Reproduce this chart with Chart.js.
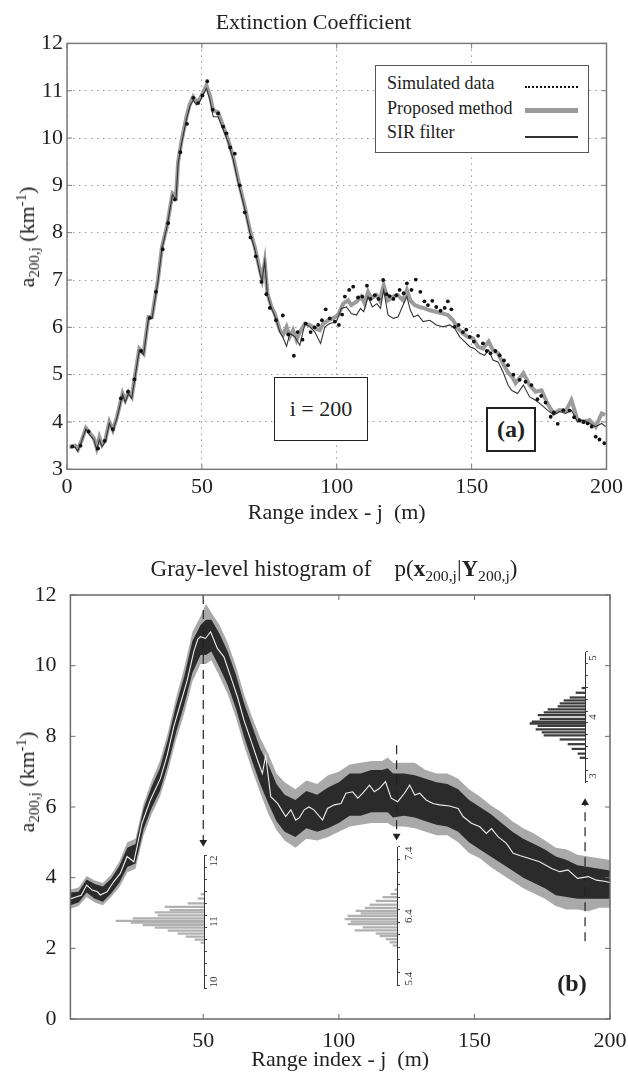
<!DOCTYPE html>
<html>
<head>
<meta charset="utf-8">
<script src="https://cdn.jsdelivr.net/npm/chart.js@4.4.1/dist/chart.umd.min.js"></script>
<style>
  body { margin: 0; background: #fff; }
  #page { position: relative; width: 628px; height: 1079px; overflow: hidden;
          font-family: 'Liberation Serif', 'Times New Roman', serif; color: #222; }
  #page canvas { position: absolute; }
  sub, sup { font-size: 0.68em; line-height: 0; }
  .ylab { position: absolute; font-size: 22px; white-space: nowrap; line-height: 1;
          transform: translate(-50%, -50%) rotate(-90deg); }
  .title-b { position: absolute; left: 334px; top: 568px; font-size: 23px; white-space: nowrap;
             line-height: 1; transform: translate(-50%, -50%); }
  #legendA { position: absolute; left: 375px; top: 65px; width: 212px; height: 81px;
             border: 1.5px solid #555; background: #fff; padding-top: 5px; box-sizing: content-box; }
  .lg-row { position: relative; height: 24.5px; line-height: 24.5px; font-size: 18px; padding-left: 11px; }
  .lg-swatch { position: absolute; left: 149px; width: 53px; }
  .sw-dots { top: 15px; border-top: 2.5px dotted #111; }
  .sw-thick { top: 12px; height: 5px; background: #9b9b9b; }
  .sw-thin { top: 16px; height: 1.5px; background: #333; }
  .note { position: absolute; display: flex; align-items: center; justify-content: center; background: #fff; }
</style>
</head>
<body>
<div id="page">
  <canvas id="chartA" width="628" height="540" style="left:0;top:0"></canvas>
  <canvas id="chartB" width="628" height="539" style="left:0;top:540px"></canvas>
  <canvas id="inset1" width="120" height="157" style="left:104px;top:843px"></canvas>
  <canvas id="inset2" width="120" height="162" style="left:297px;top:835px"></canvas>
  <canvas id="inset3" width="120" height="154" style="left:485px;top:640px"></canvas>

  <div class="ylab" style="left:27px;top:237px">a<sub>200,j</sub> (km<sup>-1</sup>)</div>
  <div class="ylab" style="left:27px;top:782px">a<sub>200,j</sub> (km<sup>-1</sup>)</div>
  <div class="title-b">Gray-level histogram of&nbsp;&nbsp;&nbsp;&nbsp;p(<b>x</b><sub>200,j</sub>|<b>Y</b><sub>200,j</sub>)</div>

  <div id="legendA"></div>
  <div class="note" style="left:274px;top:377px;width:92px;height:62px;border:1.5px solid #222;font-size:22px">i = 200</div>
  <div class="note" style="left:486px;top:407px;width:46px;height:41px;border:2px solid #222;font-size:24px;font-weight:bold">(a)</div>
  <div class="note" style="left:552px;top:968px;width:40px;height:30px;background:none;font-size:24px;font-weight:bold">(b)</div>
</div>

<script>
// Axis ticks
const xTicksA = [0, 50, 100, 150, 200];
const yTicksA = [3, 4, 5, 6, 7, 8, 9, 10, 11, 12];
const xTicksB = [50, 100, 150, 200];
const yTicksB = [0, 2, 4, 6, 8, 10, 12];

// (a) Proposed method
const pmJ = [1,3,4,5.5,7,8.5,10,11,12,13,14.2,15.7,17,18.5,20.6,21.6,22.8,24,26.8,28.4,30.2,31.5,33.7,35.2,37,39.1,40.4,41.2,42.5,44.3,45.6,46.8,48,49.3,50.5,51.7,53,54.2,56,57.9,59.8,61.6,63.5,65.9,67.8,69.6,71.5,72.3,73.3,74.3,75.8,77,78.9,80.1,81.4,82.6,83.8,85.1,86.3,88.2,90,91.9,93.7,95,96.8,98.6,100.5,102.4,104.2,105.4,107.3,109.1,110.4,111.6,112.8,114.7,115.9,117.4,119,120.9,122.7,124.6,126,127.3,128.9,130.7,132.6,134.5,136.9,139.4,141.2,143.1,144.9,146.8,148.6,150.5,152.4,154.2,156.3,157.9,159.8,161.6,163.4,165,166.3,169.2,171.5,173.7,175.9,178.1,180.4,182.6,184.8,187,189.3,191.5,193.7,196,198.2,199.5];
const pmV = [3.48,3.5,3.42,3.62,3.87,3.76,3.65,3.45,3.68,3.52,3.62,4.0,3.83,4.1,4.6,4.46,4.63,4.53,5.55,5.45,6.22,6.22,7.0,7.7,8.12,8.83,8.76,9.5,9.95,10.45,10.73,10.87,10.76,10.83,10.97,11.11,10.9,10.58,10.55,10.25,9.95,9.6,9.11,8.55,8.05,7.7,7.21,7.02,7.38,6.72,6.43,6.29,5.94,5.84,6.01,5.8,5.94,5.73,5.9,6.08,6.05,5.98,5.94,6.08,6.15,6.19,6.26,6.5,6.57,6.47,6.54,6.65,6.5,6.75,6.61,6.68,6.57,6.89,6.57,6.65,6.68,6.57,6.79,6.57,6.47,6.43,6.4,6.36,6.33,6.29,6.26,6.15,5.98,5.87,5.8,5.77,5.59,5.55,5.7,5.52,5.45,5.24,5.05,4.96,4.82,5.03,4.78,4.64,4.67,4.39,4.18,4.25,4.22,4.46,4.04,4.0,4.04,3.9,4.18,4.15];

// (a) SIR filter
const sirJ = [1,3,4,5.5,7,8.5,10,11,12,13,14.2,15.7,17,18.5,20.6,21.6,22.8,24,26.8,28.4,30.2,31.5,33.7,35.2,37,39.1,40.4,41.2,42.5,44.3,45.6,46.8,48,49.3,50.5,51.7,53,54.2,56,57.9,59.8,61.6,63.5,65.9,67.8,69.6,71.5,72.3,73.3,74.3,75.8,77,78.9,80.1,81.4,82.6,84.5,86.3,88.2,90,91.9,94,95.6,97.4,99.9,101.7,103.6,105.4,107.3,108.8,110,111.6,113.2,114.9,116.2,117.4,119,120.9,122.7,124.6,126,127.3,128.5,130.1,132,134.5,136.9,139.4,141.9,143.7,145.6,147.4,149.3,151.1,153,154.8,156.3,157.9,159.8,161.6,163.5,164.8,167,169.2,171.5,173.7,175.9,178.1,180.4,182.6,184.8,187,189.3,191.5,193.7,196,198.2,199.7];
const sirV = [3.45,3.47,3.38,3.6,3.85,3.72,3.62,3.42,3.62,3.48,3.58,3.97,3.8,4.08,4.58,4.42,4.6,4.5,5.52,5.42,6.18,6.18,6.97,7.66,8.1,8.8,8.7,9.46,9.9,10.4,10.68,10.8,10.7,10.78,10.92,11.05,10.8,10.45,10.45,10.18,9.9,9.55,9.05,8.5,8.0,7.65,7.15,6.98,7.4,6.68,6.4,6.25,5.9,5.78,5.6,5.87,5.8,5.62,6.08,6.01,5.9,5.66,6.01,6.08,6.12,6.4,6.43,6.29,6.26,6.4,6.33,6.65,6.43,6.5,6.4,6.79,6.26,6.19,6.22,6.47,6.65,6.36,6.22,6.26,6.12,6.15,6.05,6.01,6.05,5.98,5.8,5.7,5.59,5.55,5.45,5.41,5.52,5.31,5.27,5.06,4.78,4.67,4.6,4.78,4.53,4.46,4.36,4.25,4.15,4.22,4.18,4.25,4.0,4.04,3.97,3.9,3.97,3.9];

// (a) Simulated data
const simJ = [2,5,8,11.5,14,17,20,22.6,25,27.5,30.7,33,35.5,37.5,40,42,44.5,46.8,48.6,50.2,52,54,56,57.9,59.1,60.5,62.2,64,65.9,68,70,72.1,73.9,75.2,77.5,80,82,84.1,85.5,87.3,88.5,90.3,91.8,93.1,94.5,95.9,97.4,99.3,100.8,102,103,104.6,106.1,107.9,109.5,111.2,112.5,114.1,115.5,117.2,118.5,119.6,121,122.1,123.3,124.8,126,127.7,129.3,131,132.5,133.8,135.4,136.9,138.5,140,141.2,142.5,143.7,145.2,146.8,148,149.3,150.8,152.4,154.2,155.6,157,158.8,160.4,162,163.5,165.5,167.8,170,172.2,174.4,175.8,177.4,179.3,180.5,181.9,184,186.3,188,190,191.5,193,194.5,196,197.4,199.2];
const simV = [3.48,3.5,3.8,3.44,3.6,3.85,4.5,4.64,4.9,5.5,6.2,6.75,7.65,8.2,8.7,9.7,10.3,10.85,10.74,10.9,11.2,10.6,10.52,10.24,10.1,9.8,9.67,9.0,8.43,7.9,7.5,6.96,6.7,6.41,6.15,6.25,5.85,5.4,5.9,5.74,6.08,5.9,6.0,6.05,6.15,6.38,6.19,6.12,6.05,6.27,6.65,6.79,6.86,6.63,6.65,6.88,6.6,6.68,6.6,7.0,6.7,6.66,6.6,6.68,6.79,6.72,6.93,6.79,7.01,6.75,6.55,6.47,6.56,6.43,6.35,6.41,6.55,6.38,6.01,6.05,5.9,5.95,5.8,5.7,5.82,5.66,5.5,5.45,5.5,5.41,5.3,5.2,5.0,4.89,4.85,4.78,4.48,4.55,4.41,4.11,4.2,3.96,4.25,4.24,4.1,4.04,4.0,3.97,3.9,3.69,3.63,3.55];

// (b) posterior mean (white curve)
const meanJ = [1,3,5,7,9,11,12,14.5,17,19.4,21.9,24.4,27.4,30.5,34.2,36.7,39.1,41.6,44.1,46.5,48,49,50.8,52.7,55.2,57.6,60.1,62.6,65,67.5,70,71.8,73,74.9,77.4,80.4,82.3,84.1,85.5,87.2,89,90.8,94,95.8,98.3,100.8,102.6,105.1,107,108.8,111.3,113.1,115,117.2,119.3,121.7,124.2,126.1,128,129.8,132.2,134.7,137.2,140.8,144,145.8,148.9,152,154.4,156.3,158.7,161.8,164.3,167,170,174,178.5,181.5,184.5,188,192,195,198.5,200];
const meanV = [3.4,3.45,3.5,3.79,3.65,3.6,3.51,3.6,3.89,4.12,4.6,4.45,5.54,6.2,6.81,7.47,8.27,8.93,9.59,10.4,10.75,10.82,10.77,10.96,10.49,10.25,9.69,9.12,8.46,7.9,7.33,6.95,7.45,6.29,6.1,5.73,5.92,5.63,5.7,5.92,6.0,5.92,5.63,5.96,6.06,6.1,6.39,6.43,6.25,6.39,6.62,6.43,6.53,6.72,6.25,6.15,6.39,6.62,6.34,6.39,6.2,6.1,6.06,6.03,5.96,5.73,5.54,5.44,5.25,5.39,5.16,4.97,4.69,4.62,4.55,4.45,4.26,4.17,4.22,3.98,4.03,3.93,3.89,3.86];

// (b) gray-level band: dense core and lighter fringe
const bandJ   = [1,4,7,10,13,16,19,22,25,28,31,34,37,40,43,46,49,51,53,56,59,62,65,68,71,74,77,80,84,88,92,96,100,104,108,112,116,118,120,124,128,132,136,140,144,148,152,156,160,164,168,172,176,180,184,188,192,196,200];
const coreLo  = [3.22,3.3,3.58,3.4,3.32,3.55,3.85,4.3,4.4,5.38,5.98,6.45,7.22,8.12,8.9,9.8,10.3,10.3,10.4,9.95,9.45,8.8,8.0,7.3,6.65,6.1,5.6,5.3,5.15,5.4,5.3,5.4,5.55,5.75,5.75,5.85,5.85,5.85,5.7,5.75,5.7,5.6,5.5,5.45,5.3,5.0,4.8,4.6,4.4,4.2,4.0,3.85,3.7,3.5,3.45,3.4,3.4,3.4,3.4];
const coreHi  = [3.58,3.6,3.95,3.82,3.75,3.97,4.32,4.85,4.95,5.95,6.58,7.1,7.92,8.88,9.7,10.7,11.15,11.3,11.3,10.9,10.4,9.75,8.95,8.3,7.65,7.2,6.65,6.35,6.2,6.45,6.35,6.55,6.7,6.95,6.95,7.05,7.05,7.1,6.95,6.95,6.9,6.8,6.7,6.65,6.5,6.2,6.0,5.8,5.55,5.3,5.1,4.95,4.8,4.6,4.5,4.35,4.3,4.25,4.2];
const outerLo = [3.12,3.2,3.45,3.3,3.22,3.45,3.72,4.15,4.25,5.2,5.8,6.28,7.02,7.9,8.65,9.55,10.05,10.05,10.15,9.7,9.2,8.55,7.75,7.05,6.4,5.8,5.35,5.05,4.85,5.1,5.05,5.15,5.3,5.45,5.5,5.55,5.55,5.55,5.45,5.45,5.4,5.3,5.2,5.2,5.0,4.7,4.55,4.3,4.1,3.9,3.7,3.55,3.4,3.2,3.1,3.1,3.05,3.15,3.15];
const outerHi = [3.66,3.72,4.05,3.92,3.85,4.08,4.45,5.0,5.1,6.1,6.75,7.3,8.12,9.1,9.95,10.95,11.4,11.75,11.5,11.15,10.65,10.0,9.2,8.55,7.95,7.5,6.95,6.7,6.5,6.75,6.65,6.9,7.0,7.2,7.25,7.3,7.3,7.4,7.25,7.25,7.25,7.05,6.95,6.95,6.8,6.5,6.3,6.05,5.85,5.6,5.4,5.25,5.05,4.85,4.8,4.65,4.6,4.55,4.5];

// (b) slices marked by dashed arrows
const sliceJ    = [50, 121.3, 190.8];
const sliceFrom = [12, 7.75, 2.2];
const sliceTo   = [5.0, 5.18, 6.12];

// (b) slice histograms
const hist1V = [11.45,11.38,11.30,11.24,11.19,11.15,11.10,11.05,11.01,10.98,10.94,10.90,10.85,10.80,10.75,10.70,10.65];
const hist1C = [3,6,16,39,34,49,46,71,88,73,61,49,36,26,18,9,3];
const hist1Ticks = [10,10.2,10.4,10.6,10.8,11,11.2,11.4,11.6,11.8,12];
const hist1Labels = [10, 11, 12];

const hist2V = [6.82,6.75,6.70,6.64,6.58,6.53,6.48,6.44,6.40,6.35,6.31,6.27,6.22,6.17,6.12,6.08,6.03,5.98,5.93];
const hist2C = [2,6,14,21,27,32,41,36,49,52,46,49,34,42,21,17,11,7,4];
const hist2Ticks = [5.4,5.6,5.8,6,6.2,6.4,6.6,6.8,7,7.2,7.4];
const hist2Labels = [5.4, 6.4, 7.4];

const hist3V = [4.49,4.41,4.33,4.28,4.23,4.18,4.13,4.08,4.03,3.97,3.92,3.89,3.85,3.79,3.74,3.69,3.62,3.54,3.46,3.38,3.31];
const hist3C = [3,9,15,21,25,27,37,41,47,45,53,55,47,49,43,41,25,17,13,7,5];
const hist3Ticks = [3,3.2,3.4,3.6,3.8,4,4.2,4.4,4.6,4.8,5];
const hist3Labels = [3, 4, 5];

const SERIF = "'Liberation Serif', 'Times New Roman', serif";
const INK = '#222';

function pairs(js, vs) {
  return js.map((j, i) => ({ x: j, y: vs[i] }));
}

function fixedTicks(list) {
  return s => { s.ticks = list.map(v => ({ value: v })); };
}

// frame box and inward tick marks, like the original plots
const frameTicks = {
  id: 'frameTicks',
  afterDraw(chart, args, opts) {
    const { ctx, chartArea: a, scales } = chart;
    ctx.save();
    ctx.strokeStyle = opts.color;
    ctx.lineWidth = opts.width;
    ctx.strokeRect(a.left, a.top, a.right - a.left, a.bottom - a.top);
    ctx.lineWidth = 1;
    ctx.beginPath();
    scales.x.ticks.forEach(t => {
      const px = scales.x.getPixelForValue(t.value);
      ctx.moveTo(px, a.bottom); ctx.lineTo(px, a.bottom - opts.len);
      ctx.moveTo(px, a.top); ctx.lineTo(px, a.top + opts.len);
    });
    scales.y.ticks.forEach(t => {
      const py = scales.y.getPixelForValue(t.value);
      ctx.moveTo(a.left, py); ctx.lineTo(a.left + opts.len, py);
      ctx.moveTo(a.right, py); ctx.lineTo(a.right - opts.len, py);
    });
    ctx.stroke();
    ctx.restore();
  }
};

// ---------- (a) Extinction coefficient ----------
const chartA = new Chart(document.getElementById('chartA'), {
  type: 'line',
  data: {
    datasets: [
      { label: 'Simulated data', data: pairs(simJ, simV), showLine: false,
        pointRadius: 1.9, pointBackgroundColor: '#111', pointBorderWidth: 0, swatch: 'sw-dots' },
      { label: 'SIR filter', data: pairs(sirJ, sirV), borderColor: '#333', borderWidth: 1.1,
        pointRadius: 0, swatch: 'sw-thin' },
      { label: 'Proposed method', data: pairs(pmJ, pmV), borderColor: '#9b9b9b', borderWidth: 4,
        pointRadius: 0, swatch: 'sw-thick' }
    ]
  },
  options: {
    responsive: false, animation: false, events: [],
    layout: { padding: { left: 20, right: 21, top: 0, bottom: 0 } },
    plugins: {
      legend: { display: false },
      tooltip: { enabled: false },
      title: { display: true, text: 'Extinction Coefficient', color: INK,
               font: { family: SERIF, size: 22, weight: 'normal' }, padding: { top: 10, bottom: 7 } },
      frameTicks: { color: '#7a7a7a', width: 1.5, len: 5 }
    },
    scales: {
      x: {
        type: 'linear', min: 0, max: 200,
        afterBuildTicks: fixedTicks(xTicksA),
        afterFit: s => { s.height = 70.7; },
        ticks: { color: INK, font: { family: SERIF, size: 22 }, padding: 5, maxRotation: 0, autoSkip: false },
        grid: { color: '#9a9a9a', lineWidth: 1, drawTicks: false, borderDash: [1.5, 4.5] },
        border: { display: false, dash: [1.5, 4.5] },
        title: { display: true, text: 'Range index - j  (m)', color: INK,
                 font: { family: SERIF, size: 22 }, padding: { top: 0, bottom: 13.8 } }
      },
      y: {
        type: 'linear', min: 3, max: 12,
        afterBuildTicks: fixedTicks(yTicksA),
        afterFit: s => { s.width = 47; },
        ticks: { color: INK, font: { family: SERIF, size: 22 }, padding: 4, autoSkip: false },
        grid: { color: '#9a9a9a', lineWidth: 1, drawTicks: false, borderDash: [1.5, 4.5] },
        border: { display: false, dash: [1.5, 4.5] }
      }
    }
  },
  plugins: [frameTicks]
});

// legend box built from the chart's own datasets
const legendOrder = [0, 2, 1];
document.getElementById('legendA').innerHTML = legendOrder.map(i => {
  const ds = chartA.data.datasets[i];
  return `<div class="lg-row">${ds.label}<span class="lg-swatch ${ds.swatch}"></span></div>`;
}).join('');

// ---------- (b) Gray-level histogram ----------
const arrowSets = sliceJ.map((j, i) => ({
  data: [{ x: j, y: sliceFrom[i] }, { x: j, y: sliceTo[i] }],
  borderColor: INK, borderWidth: 1.2, borderDash: [9, 6],
  pointRadius: [0, 4.5], pointStyle: 'triangle',
  pointRotation: sliceTo[i] < sliceFrom[i] ? 180 : 0,
  pointBackgroundColor: INK, pointBorderWidth: 0
}));

new Chart(document.getElementById('chartB'), {
  type: 'line',
  data: {
    datasets: [
      { data: pairs(meanJ, meanV), borderColor: '#eeeeee', borderWidth: 1.1, pointRadius: 0 },
      ...arrowSets,
      { data: pairs(bandJ, coreHi), borderColor: 'rgba(0,0,0,0)', pointRadius: 0,
        fill: '+1', backgroundColor: 'rgba(22,22,22,0.86)' },
      { data: pairs(bandJ, coreLo), borderColor: 'rgba(0,0,0,0)', pointRadius: 0 },
      { data: pairs(bandJ, outerHi), borderColor: 'rgba(0,0,0,0)', pointRadius: 0,
        fill: '+1', backgroundColor: 'rgba(50,50,50,0.42)' },
      { data: pairs(bandJ, outerLo), borderColor: 'rgba(0,0,0,0)', pointRadius: 0 }
    ]
  },
  options: {
    responsive: false, animation: false, events: [],
    layout: { padding: { left: 0, right: 18, top: 55, bottom: 0 } },
    plugins: {
      legend: { display: false },
      tooltip: { enabled: false },
      frameTicks: { color: '#6a6a6a', width: 1.5, len: 5 }
    },
    scales: {
      x: {
        type: 'linear', min: 1, max: 200,
        afterBuildTicks: fixedTicks(xTicksB),
        afterFit: s => { s.height = 60; },
        ticks: { color: INK, font: { family: SERIF, size: 22 }, padding: 1, maxRotation: 0, autoSkip: false },
        grid: { display: false },
        border: { display: false },
        title: { display: true, text: 'Range index - j  (m)', color: INK,
                 font: { family: SERIF, size: 22 }, padding: { top: 0, bottom: 6 } }
      },
      y: {
        type: 'linear', min: 0, max: 12,
        afterBuildTicks: fixedTicks(yTicksB),
        afterFit: s => { s.width = 70.4; },
        ticks: { color: INK, font: { family: SERIF, size: 22 }, padding: 6, autoSkip: false },
        grid: { display: false },
        border: { display: false }
      }
    }
  },
  plugins: [frameTicks]
});

// ---------- slice histogram insets ----------
function makeInset(id, values, counts, tickList, labelList, color, vMin, vMax) {
  return new Chart(document.getElementById(id), {
    type: 'bar',
    data: {
      datasets: [{ data: values.map((v, i) => ({ x: counts[i], y: v })),
                   backgroundColor: color, barThickness: 1.6 }]
    },
    options: {
      indexAxis: 'y', responsive: false, animation: false, events: [],
      layout: { padding: { left: 0, right: 0, top: 12, bottom: 12 } },
      plugins: { legend: { display: false }, tooltip: { enabled: false } },
      scales: {
        x: { type: 'linear', min: 0, max: 100, reverse: true, display: false },
        y: {
          type: 'linear', position: 'right', min: vMin, max: vMax,
          afterBuildTicks: fixedTicks(tickList),
          afterFit: s => { s.width = 20; },
          ticks: {
            autoSkip: false, minRotation: 90, maxRotation: 90, crossAlign: 'center', padding: 2,
            color: '#333', font: { family: SERIF, size: 11 },
            callback: v => labelList.some(l => Math.abs(l - v) < 1e-6) ? String(v) : ''
          },
          grid: { drawOnChartArea: false, drawTicks: true, tickLength: 3, color: '#444' },
          border: { display: true, color: '#333', width: 1 }
        }
      }
    }
  });
}

makeInset('inset1', hist1V, hist1C, hist1Ticks, hist1Labels, '#b0b0b0', 10, 12);
makeInset('inset2', hist2V, hist2C, hist2Ticks, hist2Labels, '#b0b0b0', 5.4, 7.4);
makeInset('inset3', hist3V, hist3C, hist3Ticks, hist3Labels, '#3c3c3c', 3, 5);
</script>
</body>
</html>
